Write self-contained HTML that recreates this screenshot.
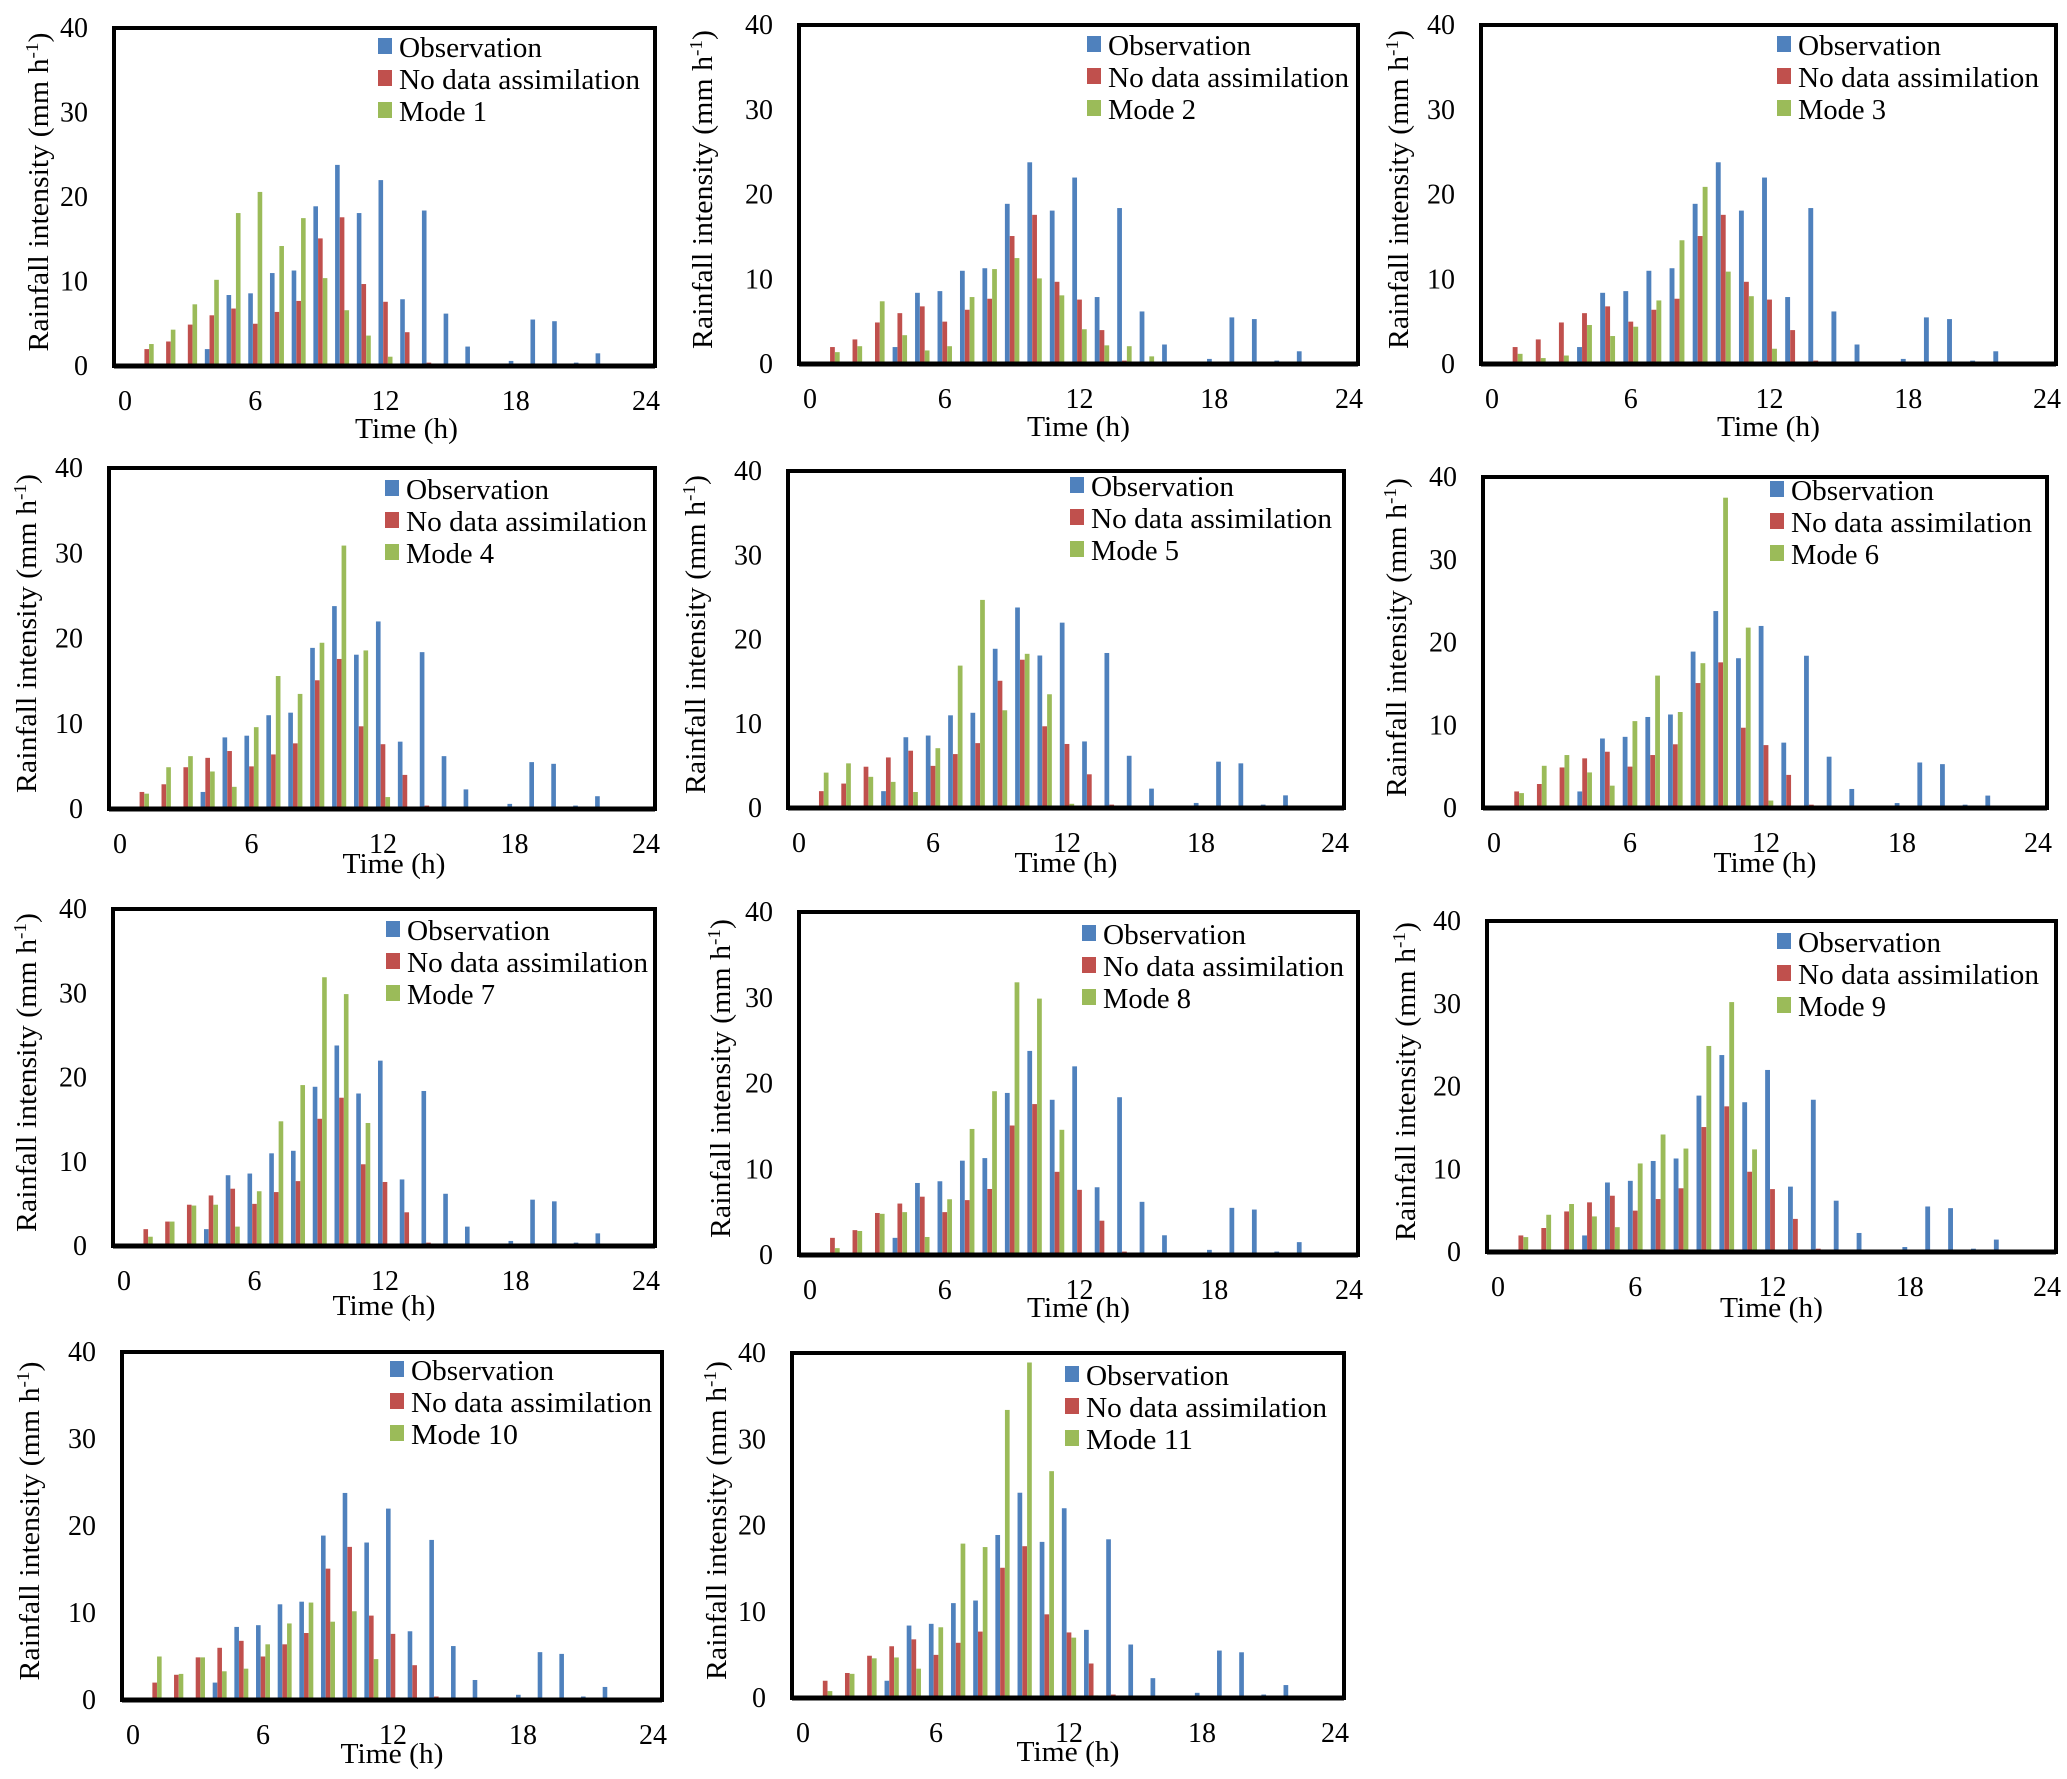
<!DOCTYPE html>
<html><head><meta charset="utf-8">
<style>
html,body{margin:0;padding:0;background:#fff;}
svg{display:block;}
svg text{font-family:"Liberation Serif","Times New Roman",serif;}
</style></head>
<body>
<svg id="chart" width="2067" height="1779" viewBox="0 0 2067 1779" xmlns="http://www.w3.org/2000/svg" font-family="Liberation Serif, serif"></svg>
<script>
const hours = [1,2,3,4,5,6,7,8,9,10,11,12,13,14,15,16,17,18,19,20,21,22];
const observation = [0,0,0,2,8.4,8.6,11,11.3,18.9,23.8,18.1,22,7.9,18.4,6.2,2.3,0.2,0.6,5.5,5.3,0.4,1.5];
const noAssimilation = [2,2.9,4.9,6,6.8,5,6.4,7.7,15.1,17.6,9.7,7.6,4,0.4,0,0,0,0,0,0,0,0];
const mode1 = [2.6,4.3,7.3,10.2,18.1,20.6,14.2,17.5,10.4,6.6,3.6,1.1,0,0,0,0,0,0,0,0,0,0];
const mode2 = [1.4,2.1,7.4,3.4,1.6,2.1,7.9,11.2,12.5,10.1,8.1,4.1,2.2,2.1,0.9,0,0,0,0,0,0,0];
const mode3 = [1.2,0.7,1,4.6,3.3,4.4,7.5,14.6,20.9,10.9,8,1.8,0,0,0,0,0,0,0,0,0,0];
const mode4 = [1.8,4.9,6.2,4.4,2.6,9.6,15.6,13.5,19.5,30.9,18.6,1.4,0,0,0,0,0,0,0,0,0,0];
const mode5 = [4.2,5.3,3.7,3.1,1.9,7.1,16.9,24.7,11.6,18.3,13.5,0.5,0,0,0,0,0,0,0,0,0,0];
const mode6 = [1.8,5.1,6.4,4.3,2.7,10.5,16,11.6,17.5,37.5,21.8,0.9,0,0,0,0,0,0,0,0,0,0];
const mode7 = [1.1,2.9,4.8,4.9,2.3,6.5,14.8,19.1,31.9,29.9,14.6,0,0,0,0,0,0,0,0,0,0,0];
const mode8 = [0.8,2.8,4.8,5,2.1,6.5,14.7,19.1,31.8,29.9,14.6,0,0,0,0,0,0,0,0,0,0,0];
const mode9 = [1.8,4.5,5.8,4.3,3,10.7,14.2,12.5,24.9,30.2,12.4,0,0,0,0,0,0,0,0,0,0,0];
const mode10 = [5,3,4.9,3.3,3.6,6.4,8.8,11.2,9,10.2,4.7,0.3,0,0,0,0,0,0,0,0,0,0];
const mode11 = [0.8,2.8,4.6,4.7,3.4,8.2,17.9,17.5,33.4,38.9,26.3,7,0.3,0,0,0,0,0,0,0,0,0];
const modeSeries = [mode1,mode2,mode3,mode4,mode5,mode6,mode7,mode8,mode9,mode10,mode11];
const yTicks = [0,10,20,30,40];
const xTicks = [0,6,12,18,24];

// panel frames: left, top, right, bottom, yTitleX, timeOffset, legendX, legendY, timeShiftX
const panels = [
 [114,28,655,366,38,62,378,47,22],
 [799,25,1358,364,702,62,1087,45,0],
 [1481,25,2056,364,1398,62,1777,45,0],
 [109,468,655,809,26,54,385,489,12],
 [788,471,1344,808,695,54,1070,486,0],
 [1483,477,2047,808,1396,54,1770,490,0],
 [113,909,655,1246,26,59,386,930,0],
 [799,912,1358,1255,720,52,1082,934,0],
 [1487,921,2056,1252,1405,55,1777,942,0],
 [122,1352,662,1700,29,53,390,1370,0],
 [792,1353,1344,1698,716,53,1065,1375,0]
];
const colors = ["#4f81bd","#c0504d","#9bbb59"];
const NS = "http://www.w3.org/2000/svg";
const svg = document.getElementById("chart");
function mk(tag, attrs, parent, text){
  const e = document.createElementNS(NS, tag);
  for (const k in attrs) e.setAttribute(k, attrs[k]);
  if (text !== undefined) e.textContent = text;
  parent.appendChild(e);
  return e;
}
const FF = "Liberation Serif, serif";
panels.forEach((p, idx) => {
  const [L,T,R,B,ytx,toff,lx,ly,tsx] = p;
  const g = mk("g", {}, svg);
  
  
  const xs = h => L + 11 + (R - L - 20) * h / 24;
  const ys = v => B - (B - T) * v / 40;
  const bw = 4.6 * (R - L) / 541;
  const series = [observation, noAssimilation, modeSeries[idx]];
  series.forEach((vals, si) => {
    hours.forEach((h, i) => {
      const v = vals[i];
      if (v <= 0) return;
      const cx = xs(h) + (si - 1) * bw * 1.02;
      const r = mk("rect", {x: cx - bw/2, y: ys(v), width: bw, height: B - ys(v), fill: colors[si]}, g);
      
      
    });
  });
  const fr = mk("rect", {x: L, y: T, width: R - L, height: B - T, fill: "none", stroke: "#000", "stroke-width": 4}, g);
  
  
  const ax = mk("line", {x1: L, x2: R, y1: B, y2: B, stroke: "#000", "stroke-width": 5}, g);
  
  
  yTicks.forEach(t => {
    const tx = mk("text", {x: L - 26, y: ys(t) + 9, "text-anchor": "end", "font-size": 28, "font-family": FF}, g, String(t));
    
    
  });
  xTicks.forEach(t => {
    const tx = mk("text", {x: xs(t), y: B + 44, "text-anchor": "middle", "font-size": 28, "font-family": FF}, g, String(t));
    
    
  });
  const xt = mk("text", {x: (L + R) / 2 + tsx, y: B + toff + 10, "text-anchor": "middle", "font-size": 29, "font-family": FF, textLength: 103, lengthAdjust: "spacingAndGlyphs"}, g, "Time (h)");
  
  
  const cy = (T + B) / 2 - 5;
  const yt = mk("text", {x: ytx + 10, y: cy, "text-anchor": "middle", "font-size": 28, "font-family": FF, textLength: 319, lengthAdjust: "spacingAndGlyphs", transform: "rotate(-90 " + (ytx + 10) + " " + cy + ")"}, g);
  
  
  yt.appendChild(document.createTextNode("Rainfall intensity (mm h"));
  mk("tspan", {dy: -10, "font-size": 18}, yt, "-1");
  mk("tspan", {dy: 10}, yt, ")");
  const labels = ["Observation", "No data assimilation", "Mode " + (idx + 1)];
  const lens = [143, 241, idx >= 9 ? 107 : 88];
  labels.forEach((lab, i) => {
    const yy = ly + i * 32;
    const sq = mk("rect", {x: lx, y: yy - 9, width: 14, height: 16, fill: colors[i]}, g);
    
    
    const tx = mk("text", {x: lx + 21, y: yy + 10, "font-size": 29, "font-family": FF, textLength: lens[i], lengthAdjust: "spacingAndGlyphs"}, g, lab);
    
    
  });
});
</script>
</body></html>
